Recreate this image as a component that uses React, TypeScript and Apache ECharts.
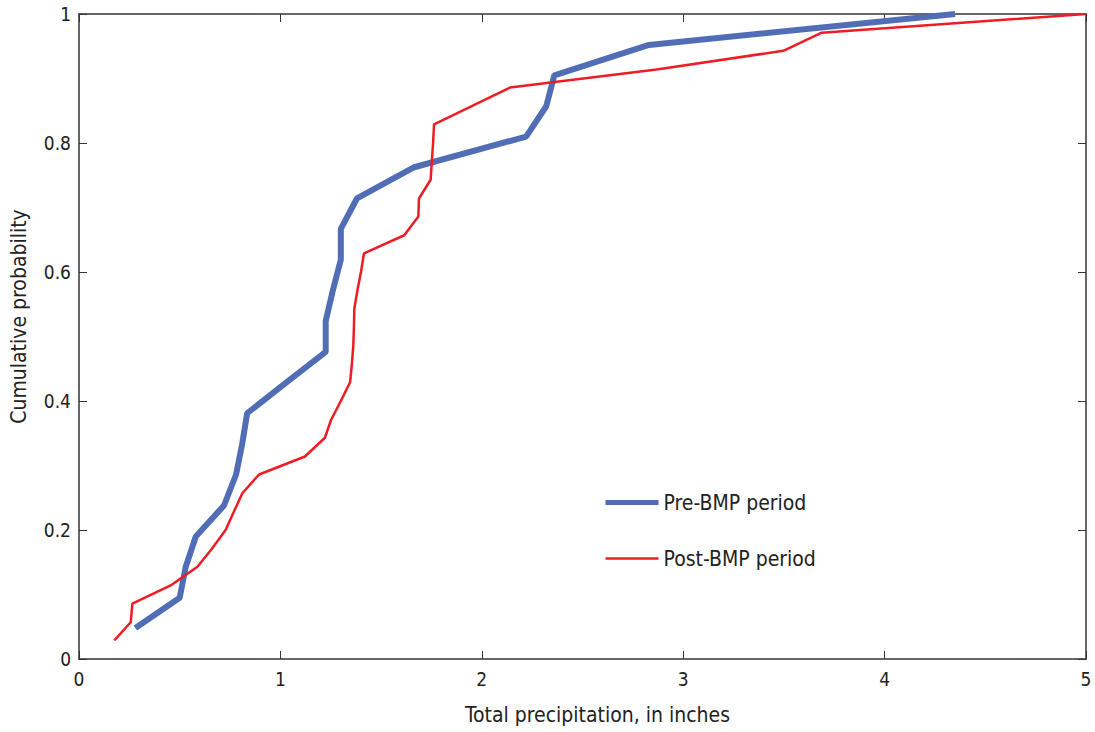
import React, { useEffect, useRef } from "react";
import * as echarts from "echarts";

const preBMP: [number, number][] = [
  [0.28, 0.048], [0.5, 0.095], [0.53, 0.143], [0.58, 0.19], [0.72, 0.238],
  [0.78, 0.286], [0.81, 0.333], [0.835, 0.381], [1.03, 0.429], [1.225, 0.476],
  [1.225, 0.524], [1.26, 0.571], [1.3, 0.619], [1.3, 0.667], [1.38, 0.714],
  [1.66, 0.762], [2.22, 0.81], [2.32, 0.857], [2.36, 0.905], [2.83, 0.952],
  [4.35, 1.0],
];

const postBMP: [number, number][] = [
  [0.175, 0.029], [0.257, 0.057], [0.265, 0.086], [0.455, 0.114], [0.588, 0.143],
  [0.66, 0.171], [0.728, 0.2], [0.77, 0.229], [0.811, 0.257], [0.894, 0.286],
  [1.122, 0.314], [1.221, 0.343], [1.252, 0.371], [1.3, 0.4], [1.346, 0.429],
  [1.355, 0.457], [1.362, 0.486], [1.365, 0.514], [1.367, 0.543], [1.382, 0.571],
  [1.4, 0.6], [1.415, 0.629], [1.615, 0.657], [1.685, 0.686], [1.688, 0.714],
  [1.746, 0.743], [1.752, 0.771], [1.758, 0.8], [1.763, 0.829], [1.95, 0.857],
  [2.14, 0.886], [2.868, 0.914], [3.497, 0.943], [3.688, 0.971], [5.0, 1.0],
];

const seriesNames = ["Pre-BMP period", "Post-BMP period"];
const xTitle = "Total precipitation, in inches";
const yTitle = "Cumulative probability";

const FONT = "'Liberation Sans Narrow', 'DejaVu Sans Condensed', 'Roboto Condensed', sans-serif";
const AXIS_COLOR = "#333";
const BLUE = "#506db6";
const RED = "#ee1c25";

export default function App() {
  const ref = useRef<HTMLDivElement>(null);
  useEffect(() => {
    if (!ref.current) return;
    const chart = echarts.init(ref.current, undefined, { renderer: "svg" });
    const axisCommon = {
      axisLine: { show: true, onZero: false, lineStyle: { color: AXIS_COLOR, width: 1.5 } },
      axisTick: { show: true, inside: true, length: 8, lineStyle: { color: AXIS_COLOR } },
      splitLine: { show: false },
    };
    chart.setOption({
      animation: false,
      backgroundColor: "#fff",
      textStyle: { fontFamily: FONT },
      grid: { left: 79, right: 9, top: 14, bottom: 73, containLabel: false, outerBoundsMode: "none" },
      xAxis: [
        {
          type: "value", min: 0, max: 5, interval: 1, position: "bottom",
          ...axisCommon,
          axisLabel: { color: "#222", fontSize: 19, fontFamily: FONT, margin: 10 },
          name: xTitle, nameLocation: "middle", nameGap: 45,
          nameTextStyle: { color: "#222", fontSize: 21, fontFamily: FONT, padding: [0, 0, 0, 30] },
        },
        {
          type: "value", min: 0, max: 5, interval: 1, position: "top",
          ...axisCommon, axisLabel: { show: false },
        },
      ],
      yAxis: [
        {
          type: "value", min: 0, max: 1, interval: 0.2, position: "left",
          ...axisCommon,
          axisLabel: { color: "#222", fontSize: 19, fontFamily: FONT, margin: 8 },
          name: yTitle, nameLocation: "middle", nameGap: 50,
          nameTextStyle: { color: "#222", fontSize: 21, fontFamily: FONT, padding: [0, 0, 0, 40] },
        },
        {
          type: "value", min: 0, max: 1, interval: 0.2, position: "right",
          ...axisCommon, axisLabel: { show: false },
        },
      ],
      legend: {
        orient: "vertical",
        left: 598,
        top: 487,
        itemWidth: 53,
        itemHeight: 20,
        itemGap: 35,
        itemStyle: { opacity: 0 },
        textStyle: { fontSize: 21, color: "#222", fontFamily: FONT },
        data: [
          { name: seriesNames[0], lineStyle: { width: 5, color: BLUE } },
          { name: seriesNames[1], lineStyle: { width: 2.5, color: RED } },
        ],
      },
      series: [
        {
          name: seriesNames[0], type: "line", data: preBMP, showSymbol: false, symbol: "none",
          lineStyle: { color: BLUE, width: 6 }, itemStyle: { color: BLUE },
          xAxisIndex: 0, yAxisIndex: 0,
        },
        {
          name: seriesNames[1], type: "line", data: postBMP, showSymbol: false, symbol: "none",
          lineStyle: { color: RED, width: 2.5 }, itemStyle: { color: RED },
          xAxisIndex: 0, yAxisIndex: 0,
        },
      ],
    });
    return () => chart.dispose();
  }, []);
  return (
    <div
      ref={ref}
      style={{ position: "fixed", left: 0, top: 0, width: 1095, height: 732 }}
    />
  );
}
